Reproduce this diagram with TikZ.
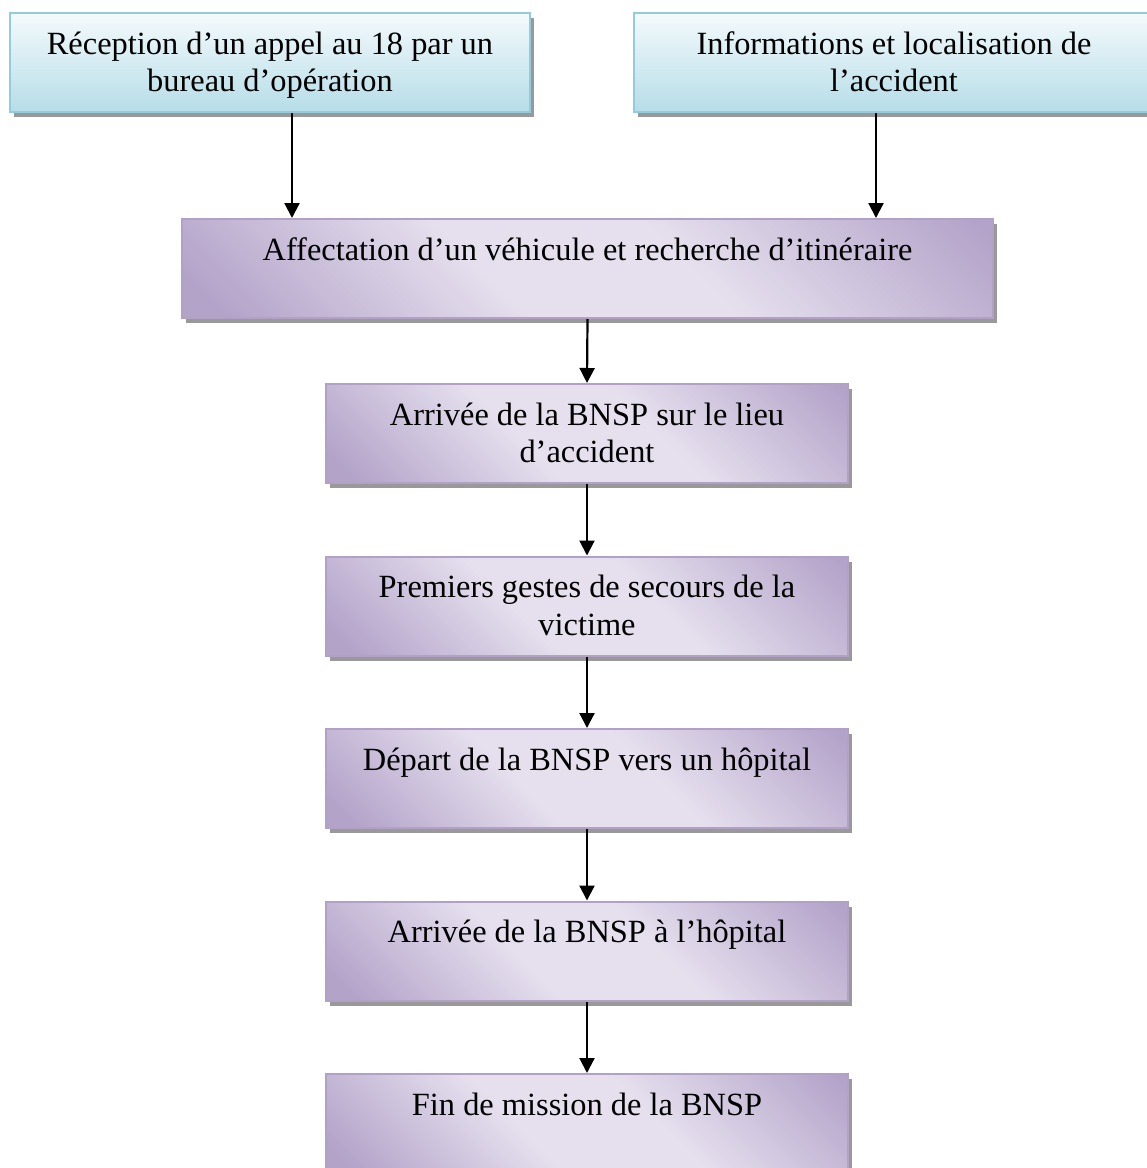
\documentclass[tikz,border=0pt]{standalone}
\usepackage{fontspec}
\setmainfont{Liberation Serif}
\usetikzlibrary{arrows.meta,shadows}

\definecolor{aquaedge}{HTML}{93CDDD}
\definecolor{aquatop}{HTML}{F4FAFC}
\definecolor{aquabot}{HTML}{B6DDE8}
\definecolor{lilacedge}{HTML}{B2A1C7}
\definecolor{lilaclight}{HTML}{E6E0EE}
\definecolor{lilacdark}{HTML}{B3A3C9}
\pgfdeclarehorizontalshading{lilacfade}{100bp}{color(0bp)=(lilacdark); color(18bp)=(lilacdark); color(42bp)=(lilaclight); color(58bp)=(lilaclight); color(84bp)=(lilacdark); color(100bp)=(lilacdark)}

\tikzset{
    boxtext/.style={font=\fontsize{32.4}{37.5}\selectfont, align=flush center,
        inner sep=0pt, text height=41pt, text depth=58pt, anchor=north, line width=2pt,
        drop shadow={shadow xshift=4pt, shadow yshift=-5pt, fill=black, opacity=.4}},
    bluebox/.style={boxtext, draw=aquaedge, top color=aquatop, bottom color=aquabot, text width=520pt},
    lilacbox/.style={boxtext, draw=lilacedge, shading=lilacfade, shading angle=45},
    arr/.style={line width=2.2pt, -{Triangle[length=15pt,width=15pt]}}
}

\begin{document}
\begin{tikzpicture}[x=1pt, y=-1pt]
    \useasboundingbox (0,0) rectangle (1147,1168);
    % two sources
    \node[bluebox] (recep) at (270,12) {Réception d’un appel au 18 par un\\bureau d’opération};
    \node[bluebox] (info) at (894,12) {Informations et localisation de\\l’accident};
    \node[lilacbox, text width=811pt] (affect) at (587.5,218) {Affectation d’un véhicule et recherche d’itinéraire};
    % chain of steps
    \foreach \txt [count=\i] in {{Arrivée de la BNSP sur le lieu\\d’accident}, {Premiers gestes de secours de la\\victime}, {Départ de la BNSP vers un hôpital}, {Arrivée de la BNSP à l’hôpital}, {Fin de mission de la BNSP}} {
        \node[lilacbox, text width=522pt] (step\i) at (587, {383+172.5*(\i-1)}) {\txt};
    }
    \path ([xshift=22pt]recep.south) coordinate (recepout);
    \path ([xshift=-18pt]info.south) coordinate (infoout);
    \draw[arr] (recepout) -- (recepout |- affect.north);
    \draw[arr] (infoout) -- (infoout |- affect.north);
    \draw[arr] (affect.south) -- (step1.north);
    \foreach \i/\j in {1/2,2/3,3/4,4/5} {
        \draw[arr] (step\i.south) -- (step\j.north);
    }
\end{tikzpicture}
\end{document}
